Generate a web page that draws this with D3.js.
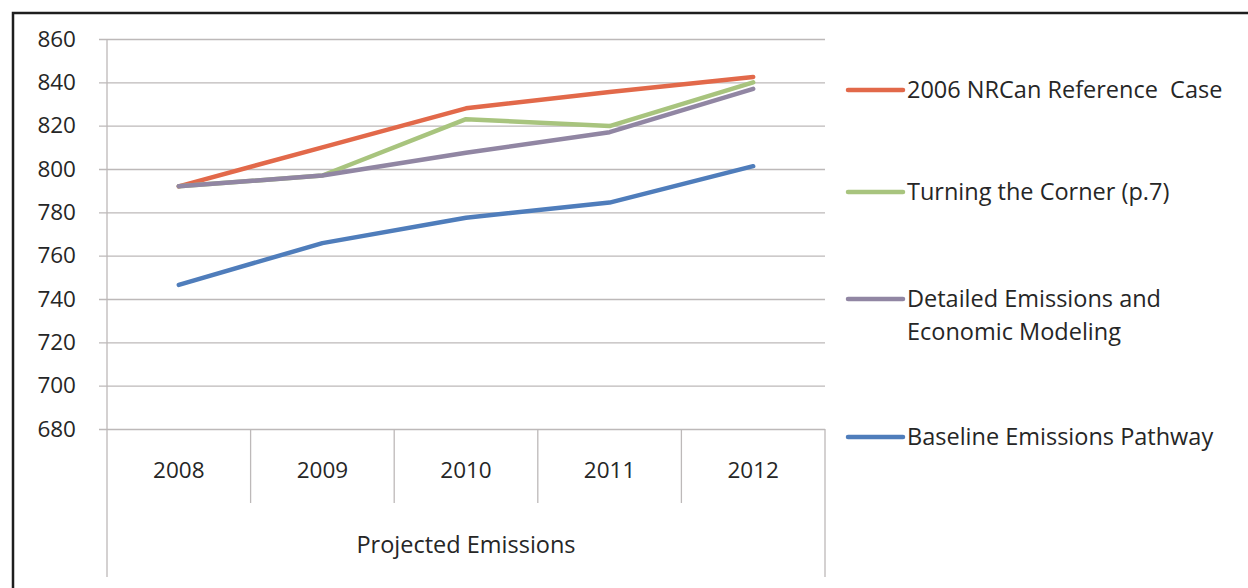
<!DOCTYPE html>
<html>
<head>
<meta charset="utf-8">
<script src="https://cdn.jsdelivr.net/npm/d3@7"></script>
<style>
  html, body { margin: 0; padding: 0; background: #fff; }
  svg { display: block; }
  text { font-family: "Open Sans", "Liberation Sans", sans-serif; fill: #262626; white-space: pre; }
</style>
</head>
<body>
<svg id="chart" width="1248" height="588"></svg>
<script>
// Projected emissions by year, four scenarios
const years = ["2008", "2009", "2010", "2011", "2012"];
const groupLabel = "Projected Emissions";
const yTicks = [680, 700, 720, 740, 760, 780, 800, 820, 840, 860];

const seriesNames = [
  "2006 NRCan Reference  Case",
  "Turning the Corner (p.7)",
  "Detailed Emissions and|Economic Modeling",
  "Baseline Emissions Pathway"
];
const nrcanRef      = [792, 810, 828, 835.5, 842.5];
const turningCorner = [792, 797, 823, 819.8, 840];
const detailedModel = [792, 797, 807.5, 817, 837];
const baseline      = [746.5, 765.8, 777.5, 784.5, 801.3];
const seriesColors  = ["#E2694A", "#A8C47E", "#9186A3", "#4F7DBB"];

const seriesValues = [nrcanRef, turningCorner, detailedModel, baseline];

const svg = d3.select("#chart");

// outer frame
svg.append("rect")
  .attr("x", 13).attr("y", 13)
  .attr("width", 1260).attr("height", 600)
  .attr("fill", "none").attr("stroke", "#1e1e1e").attr("stroke-width", 2.5);

const plot = { left: 107, right: 825, top: 39, bottom: 429 };

const x = d3.scaleBand().domain(years).range([plot.left, plot.right]).padding(0);
const y = d3.scaleLinear().domain([680, 860]).range([plot.bottom, plot.top]);

// value axis with gridlines
const yAxis = svg.append("g")
  .attr("transform", `translate(${plot.left},0)`)
  .call(d3.axisLeft(y).tickValues(yTicks).tickSizeOuter(0).tickPadding(25));
yAxis.select(".domain").remove();
yAxis.selectAll(".tick line")
  .attr("x1", -8).attr("x2", plot.right - plot.left)
  .attr("stroke", "#BDB9B9").attr("stroke-width", 1.3);
yAxis.selectAll(".tick text")
  .attr("font-size", 22.5).attr("fill", "#262626")
  .style("font-family", '"Open Sans", sans-serif');

// vertical axis line down through the category area
svg.append("line")
  .attr("x1", plot.left).attr("x2", plot.left)
  .attr("y1", plot.top).attr("y2", 577)
  .attr("stroke", "#BDB9B9").attr("stroke-width", 1.3);

// category separators
const bounds = years.map(d => x(d)).concat([x(years[years.length - 1]) + x.bandwidth()]);
svg.append("g").selectAll("line")
  .data(bounds.slice(1))
  .join("line")
  .attr("x1", d => d).attr("x2", d => d)
  .attr("y1", plot.bottom)
  .attr("y2", (d, i, arr) => i === arr.length - 1 ? 577 : 503)
  .attr("stroke", "#BDB9B9").attr("stroke-width", 1.3);

// category labels
svg.append("g").selectAll("text")
  .data(years)
  .join("text")
  .attr("x", d => x(d) + x.bandwidth() / 2)
  .attr("y", 470)
  .attr("dy", "0.35em")
  .attr("text-anchor", "middle")
  .attr("font-size", 22.5)
  .text(d => d);

// group label
svg.append("text")
  .attr("x", (plot.left + plot.right) / 2)
  .attr("y", 545)
  .attr("dy", "0.35em")
  .attr("text-anchor", "middle")
  .attr("font-size", 23.5)
  .text(groupLabel);

// series lines
const line = d3.line()
  .x((d, i) => x(years[i]) + x.bandwidth() / 2)
  .y(d => y(d));

svg.append("g").selectAll("path")
  .data(seriesValues)
  .join("path")
  .attr("d", d => line(d))
  .attr("fill", "none")
  .attr("stroke", (d, i) => seriesColors[i])
  .attr("stroke-width", 4.5)
  .attr("stroke-linejoin", "round")
  .attr("stroke-linecap", "round");

// legend
const legendY = [90, 192, 299, 437];
const legend = svg.append("g").selectAll("g")
  .data(seriesNames)
  .join("g")
  .attr("transform", (d, i) => `translate(0,${legendY[i]})`);
legend.append("line")
  .attr("x1", 848).attr("x2", 903)
  .attr("stroke", (d, i) => seriesColors[i])
  .attr("stroke-width", 4.5)
  .attr("stroke-linecap", "round");
legend.each(function (d) {
  const lines = d.split("|");
  const t = d3.select(this).append("text")
    .attr("x", 907)
    .attr("font-size", 23.5);
  lines.forEach((s, j) => {
    t.append("tspan")
      .attr("x", 907)
      .attr("y", j * 33)
      .attr("dy", "0.35em")
      .text(s);
  });
});
</script>
</body>
</html>
